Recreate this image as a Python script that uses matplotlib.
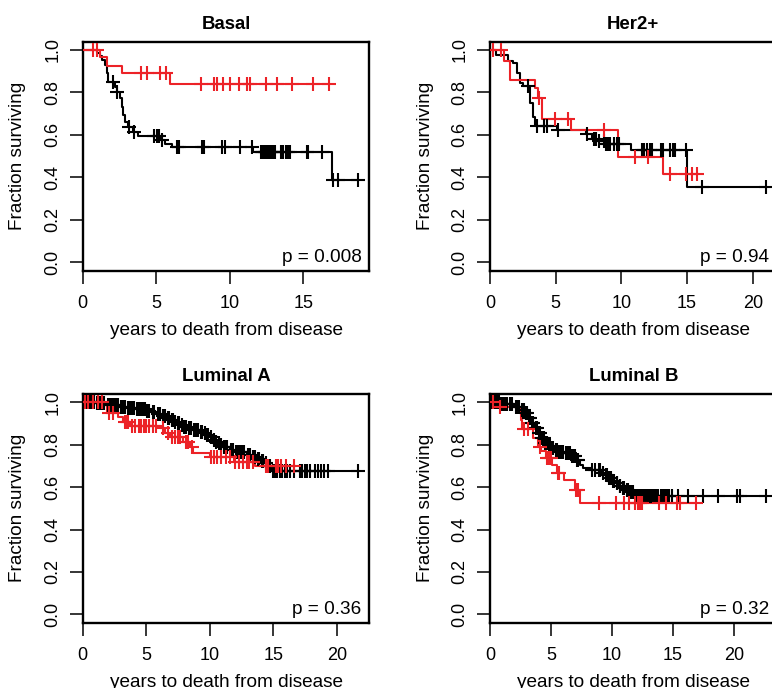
import numpy as np
import matplotlib

matplotlib.use("Agg")
import matplotlib.pyplot as plt

plt.rcParams["font.family"] = ["Liberation Sans", "DejaVu Sans"]

RED = "#ec2227"
BLACK = "#000000"

PANEL_TITLES = ["Basal", "Her2+", "Luminal A", "Luminal B"]
P_VALUES = ["p = 0.008", "p = 0.94", "p = 0.36", "p = 0.32"]

# Basal
basal_black_t = [0, 0.95, 1.18, 1.3, 1.52, 1.63, 1.74, 2.2, 2.31, 2.54, 2.65, 2.76, 2.88,
                 3.1, 3.44, 3.78, 5.26, 5.6, 6.05, 11.6, 16.94]
basal_black_s = [1.0, 0.985, 0.97, 0.953, 0.929, 0.89, 0.85, 0.827, 0.80, 0.772, 0.733, 0.694,
                 0.662, 0.636, 0.615, 0.595, 0.576, 0.557, 0.541, 0.52, 0.388]
basal_black_c = [2.05, 2.35, 3.17, 3.51, 4.85, 5.07, 5.21, 5.37, 6.39, 6.53, 8.1, 8.25, 9.5,
                 9.66, 10.7, 11.55, 12.1, 12.2, 12.3, 12.4, 12.5, 12.6, 12.7, 12.8, 12.9, 13.0,
                 13.1, 13.5, 13.65, 13.8, 13.95, 14.1, 15.24, 15.35, 16.3, 17.0, 17.4, 18.75]
basal_red_t = [0, 1.18, 1.68, 2.65, 5.94]
basal_red_s = [1.0, 0.966, 0.926, 0.893, 0.838]
basal_red_c = [0.7, 0.95, 4.0, 4.35, 5.26, 5.7, 8.05, 8.95, 9.12, 9.52, 10.02, 10.65, 11.2,
               11.38, 12.47, 13.24, 14.26, 15.69, 16.78]

# Her2+
her2_black_t = [0, 0.46, 1.38, 1.77, 2.03, 2.28, 2.54, 3.05, 3.31, 3.44, 5.1, 7.28, 7.79,
                8.18, 8.82, 10.77, 15.0]
her2_black_s = [1.0, 0.976, 0.95, 0.937, 0.89, 0.843, 0.832, 0.749, 0.686, 0.642, 0.623,
                0.603, 0.581, 0.571, 0.556, 0.529, 0.352]
her2_black_c = [2.87, 3.56, 4.08, 4.33, 5.15, 7.4, 7.9, 8.05, 8.3, 8.7, 8.85, 8.95, 9.1,
                9.45, 9.7, 9.85, 11.54, 11.74, 11.92, 12.18, 12.3, 13.02, 13.2, 13.72, 13.9,
                14.1, 14.95, 16.15, 20.98]
her2_red_t = [0, 1.1, 1.54, 3.44, 3.69, 3.95, 6.13, 9.72, 13.2]
her2_red_s = [1.0, 0.948, 0.859, 0.82, 0.773, 0.675, 0.623, 0.497, 0.416]
her2_red_c = [0.23, 0.87, 3.72, 4.97, 5.92, 8.69, 11.05, 12.0, 13.7, 14.9, 15.4, 15.75]

# Luminal A
luma_black_t = [0, 1.0, 1.9, 2.9, 3.5, 4.2, 5.0, 5.4, 5.8, 6.2, 6.6, 6.9, 7.2, 7.4, 7.7, 7.9,
                8.3, 8.7, 9.2, 9.5, 9.7, 10.0, 10.2, 10.4, 10.6, 10.8, 11.0, 11.6, 12.0, 12.9,
                13.3, 13.7, 14.0, 14.3, 14.5, 14.9]
luma_black_s = [1.0, 0.995, 0.987, 0.978, 0.972, 0.966, 0.96, 0.952, 0.943, 0.935, 0.925,
                0.916, 0.908, 0.9, 0.892, 0.885, 0.877, 0.869, 0.861, 0.853, 0.846, 0.838,
                0.822, 0.814, 0.806, 0.797, 0.787, 0.775, 0.767, 0.751, 0.741, 0.731, 0.722,
                0.712, 0.7, 0.677]
luma_black_c = [0.15, 0.3, 0.45, 0.6, 0.75, 0.9, 1.1, 1.25, 1.4, 1.55, 1.7, 2.0, 2.15, 2.3,
                2.45, 2.6, 2.75, 3.0, 3.15, 3.3, 3.6, 3.75, 3.9, 4.05, 4.3, 4.45, 4.6, 4.75,
                4.9, 5.1, 5.25, 5.5, 5.65, 5.9, 6.05, 6.3, 6.45, 6.7, 6.8, 7.0, 7.1, 7.3, 7.5,
                7.6, 7.8, 8.0, 8.15, 8.4, 8.55, 8.8, 8.95, 9.05, 9.3, 9.4, 9.6, 9.8, 9.9, 10.1,
                10.3, 10.5, 10.7, 10.9, 11.1, 11.25, 11.4, 11.7, 11.85, 12.1, 12.25, 12.4,
                12.55, 12.7, 13.0, 13.15, 13.4, 13.55, 13.8, 13.9, 14.1, 14.2, 14.4, 14.6,
                14.75, 15.0, 15.15, 15.3, 15.5, 15.7, 15.9, 16.1, 16.3, 16.6, 17.1, 17.25,
                17.5, 17.7, 17.9, 18.3, 18.55, 18.8, 19.0, 19.3, 21.7]
luma_red_t = [0, 1.9, 2.8, 3.2, 3.7, 6.1, 6.5, 6.9, 7.9, 8.45, 8.7, 10.0, 11.9, 13.6]
luma_red_s = [1.0, 0.948, 0.932, 0.908, 0.888, 0.877, 0.856, 0.838, 0.814, 0.79, 0.759,
              0.743, 0.72, 0.70]
luma_red_c = [0.2, 0.45, 0.8, 1.2, 1.55, 2.1, 2.4, 3.3, 3.45, 3.6, 3.9, 4.1, 4.4, 4.6, 4.8,
              5.0, 5.2, 5.5, 5.8, 6.3, 6.7, 7.0, 7.3, 7.5, 7.7, 8.1, 8.3, 8.6, 10.1, 10.3,
              10.6, 10.9, 11.3, 11.6, 12.0, 12.3, 12.6, 12.9, 13.1, 13.4, 14.4, 14.6, 15.2,
              15.4, 15.6, 16.0, 16.6]

# Luminal B
lumb_black_t = [0, 0.8, 2.0, 2.57, 2.84, 3.1, 3.38, 3.66, 3.93, 4.2, 4.48, 4.75, 5.0, 5.3,
                5.57, 6.1, 6.66, 7.08, 7.35, 7.6, 8.3, 9.2, 9.45, 9.7, 10.0, 10.3, 10.55, 10.8,
                11.1, 11.4, 11.9]
lumb_black_s = [1.0, 0.99, 0.98, 0.964, 0.948, 0.924, 0.9, 0.877, 0.854, 0.83, 0.806, 0.795,
                0.783, 0.775, 0.767, 0.759, 0.746, 0.727, 0.704, 0.688, 0.68, 0.667, 0.655,
                0.641, 0.629, 0.617, 0.605, 0.594, 0.585, 0.578, 0.56]
lumb_black_c = [0.1, 0.25, 0.4, 0.55, 0.7, 0.9, 1.05, 1.2, 1.4, 1.6, 1.8, 2.1, 2.25, 2.4,
                2.65, 2.75, 2.95, 3.05, 3.2, 3.3, 3.45, 3.55, 3.75, 3.85, 4.0, 4.1, 4.3, 4.4,
                4.55, 4.65, 4.85, 4.95, 5.1, 5.2, 5.4, 5.5, 5.65, 5.8, 5.9, 6.0, 6.2, 6.3, 6.4,
                6.5, 6.6, 6.75, 6.85, 6.95, 7.15, 7.25, 8.4, 8.65, 8.9, 9.05, 9.3, 9.55, 9.6,
                9.8, 9.9, 10.1, 10.2, 10.4, 10.45, 10.65, 10.7, 10.9, 11.0, 11.2, 11.3, 11.5,
                11.6, 11.75, 12.0, 12.1, 12.3, 12.45, 12.6, 12.7, 12.85, 13.0, 13.2, 13.35,
                13.5, 13.6, 13.8, 14.0, 14.2, 14.35, 14.5, 14.7, 14.9, 15.44, 16.25, 17.43,
                18.66, 20.27, 20.49, 22.6]
lumb_red_t = [0, 0.55, 2.43, 2.55, 2.65, 3.5, 3.93, 4.2, 4.56, 5.1, 5.5, 6.1, 7.0, 7.35]
lumb_red_s = [1.0, 0.979, 0.948, 0.916, 0.872, 0.83, 0.79, 0.77, 0.735, 0.704, 0.665, 0.633,
              0.586, 0.523]
lumb_red_c = [0.25, 0.8, 2.75, 3.1, 4.1, 4.7, 4.85, 4.97, 5.55, 5.65, 7.05, 7.2, 8.9, 10.35,
              11.0, 11.4, 11.9, 12.15, 12.3, 12.45, 13.85, 14.45, 15.35, 15.55, 16.9]

PANELS = [
    ((basal_black_t, basal_black_s, basal_black_c), (basal_red_t, basal_red_s, basal_red_c)),
    ((her2_black_t, her2_black_s, her2_black_c), (her2_red_t, her2_red_s, her2_red_c)),
    ((luma_black_t, luma_black_s, luma_black_c), (luma_red_t, luma_red_s, luma_red_c)),
    ((lumb_black_t, lumb_black_s, lumb_black_c), (lumb_red_t, lumb_red_s, lumb_red_c)),
]

FIG_W, FIG_H = 772, 688
AX_W, AX_H = 286.6, 229.0
# left / top pixel of each panel box
AX_POS = [(82.7, 41.5), (490.0, 41.5), (82.7, 393.8), (490.0, 393.8)]
FS_TICK = 13.0
FS_LABEL = 13.7
FS_TITLE = 13.4


def draw_km(ax, t, s, c, color):
    t = np.asarray(t, dtype=float)
    s = np.asarray(s, dtype=float)
    c = np.asarray(c, dtype=float)
    t_end = max(t.max(), c.max())
    xs = np.append(t, t_end)
    ys = np.append(s, s[-1])
    ax.step(xs, ys, where="post", color=color, lw=1.5, zorder=3)
    idx = np.searchsorted(t, c, side="right") - 1
    ax.plot(c, s[idx], ls="none", marker="+", ms=9.5, mew=1.5, color=color, zorder=4)
    return t_end


def draw_panel(fig, pos, title, pval, curves):
    left, top = pos
    rect = [left / FIG_W, 1 - (top + AX_H) / FIG_H, AX_W / FIG_W, AX_H / FIG_H]
    ax = fig.add_axes(rect)

    t_max = 0.0
    for (t, s, c), color in zip(curves, [BLACK, RED]):
        t_max = max(t_max, draw_km(ax, t, s, c, color))

    ax.set_xlim(0, t_max * 1.04)
    ax.set_ylim(-0.04, 1.04)
    ax.set_xticks([x for x in [0, 5, 10, 15, 20] if x <= t_max * 1.04])
    ax.set_yticks([0.0, 0.2, 0.4, 0.6, 0.8, 1.0])
    ax.set_yticklabels(["0.0", "0.2", "0.4", "0.6", "0.8", "1.0"])
    ax.tick_params(direction="out", length=9.5, width=1.1, labelsize=FS_TICK)
    ax.tick_params(axis="x", pad=8)
    ax.tick_params(axis="y", pad=6)
    for lab in ax.get_yticklabels():
        lab.set_rotation(90)
        lab.set_va("center")
    for sp in ax.spines.values():
        sp.set_linewidth(1.7)

    ax.set_title(title, fontsize=FS_TITLE, fontweight="bold", pad=9)
    ax.set_xlabel("years to death from disease", fontsize=FS_LABEL, va="center")
    ax.xaxis.set_label_coords(0.5, -60 / AX_H)
    ax.set_ylabel("Fraction surviving", fontsize=FS_LABEL, va="center")
    ax.yaxis.set_label_coords(-65 / AX_W, 0.5)
    ax.text(1 - 7.6 / AX_W, 0.04 / 1.08, pval, transform=ax.transAxes,
            ha="right", va="baseline", fontsize=FS_LABEL)
    return ax


def main() -> None:
    fig = plt.figure(figsize=(FIG_W / 100, FIG_H / 100), dpi=100)
    for pos, title, pval, curves in zip(AX_POS, PANEL_TITLES, P_VALUES, PANELS):
        draw_panel(fig, pos, title, pval, curves)
    fig.savefig("out.png", dpi=100)
    plt.close(fig)


if __name__ == "__main__":
    main()
